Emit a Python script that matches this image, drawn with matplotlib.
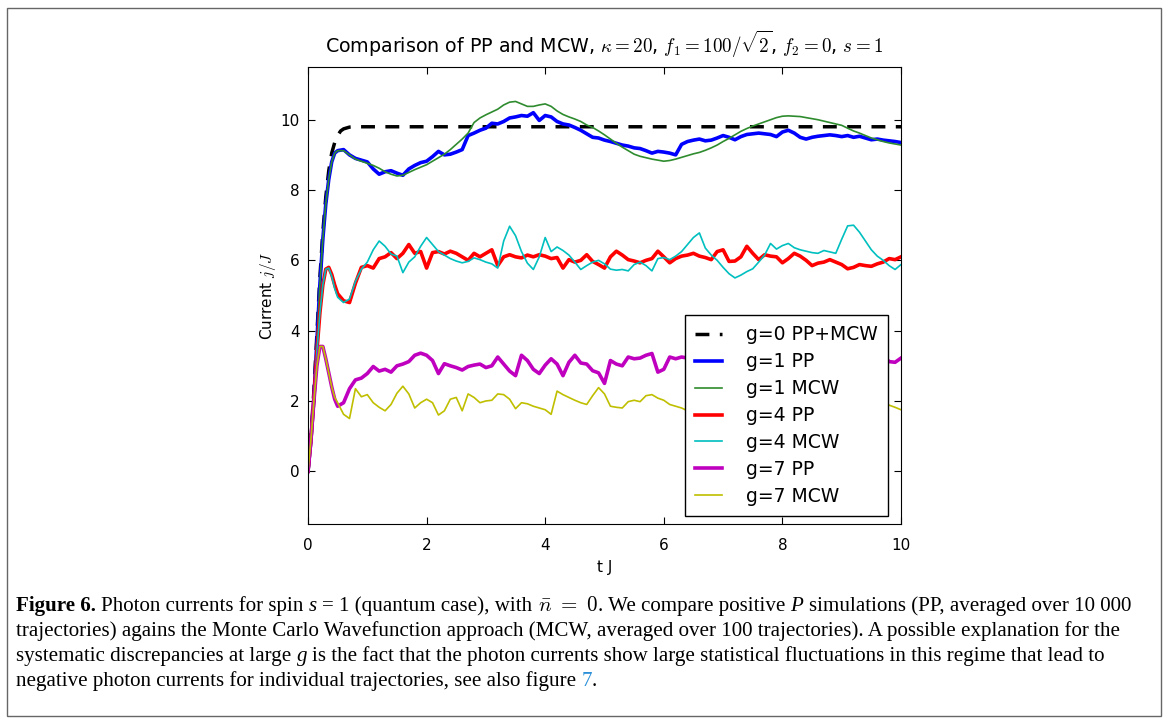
import matplotlib

matplotlib.use("Agg")
import matplotlib.pyplot as plt
import numpy as np
from matplotlib.patches import Rectangle

plt.rcParams["mathtext.fontset"] = "cm"
plt.rcParams["font.family"] = "DejaVu Sans"

# time grid: dense start, then 0.1 steps
t = np.concatenate([np.linspace(0, 0.5, 11), np.linspace(0.6, 10.0, 95)])

g0_t = [0, 0.05, 0.1, 0.15, 0.2, 0.25, 0.3, 0.35, 0.4, 0.45, 0.5, 0.55, 0.6, 0.7, 0.8, 10.0]
g0_j = [0, 1.0, 2.3, 3.9, 5.5, 6.8, 7.8, 8.55, 9.05, 9.35, 9.55, 9.68, 9.74, 9.79, 9.8, 9.8]

g1_pp = [0, 0.9, 2.1, 3.7, 5.3, 6.6, 7.6, 8.3, 8.8, 9.05, 9.12] + [
    9.15, 9.0, 8.9, 8.85, 8.8, 8.6, 8.45, 8.52, 8.55, 8.48,
    8.42, 8.6, 8.7, 8.78, 8.82, 8.95, 9.1, 9.0, 9.02, 9.08,
    9.15, 9.55, 9.62, 9.7, 9.76, 9.9, 9.88, 9.95, 10.05, 10.08,
    10.12, 10.1, 10.2, 9.98, 10.12, 10.08, 9.95, 9.88, 9.85, 9.78,
    9.7, 9.6, 9.5, 9.48, 9.42, 9.38, 9.33, 9.28, 9.25, 9.2,
    9.18, 9.12, 9.05, 9.1, 9.08, 9.05, 9.0, 9.3, 9.38, 9.42,
    9.45, 9.4, 9.42, 9.48, 9.55, 9.5, 9.43, 9.52, 9.58, 9.6,
    9.62, 9.6, 9.58, 9.52, 9.65, 9.7, 9.62, 9.5, 9.45, 9.5,
    9.53, 9.55, 9.57, 9.55, 9.52, 9.55, 9.5, 9.53, 9.48, 9.43,
    9.45, 9.42, 9.4, 9.38, 9.35]

g1_mcw = [0, 0.9, 2.1, 3.7, 5.3, 6.6, 7.6, 8.3, 8.8, 9.05, 9.12] + [
    9.12, 9.0, 8.88, 8.82, 8.76, 8.7, 8.62, 8.52, 8.45, 8.4,
    8.42, 8.5, 8.58, 8.65, 8.72, 8.82, 8.92, 9.02, 9.15, 9.3,
    9.45, 9.62, 9.92, 10.05, 10.14, 10.22, 10.3, 10.42, 10.5, 10.52,
    10.45, 10.38, 10.38, 10.42, 10.45, 10.38, 10.25, 10.15, 10.08, 10.02,
    9.95, 9.85, 9.78, 9.68, 9.57, 9.45, 9.33, 9.22, 9.12, 9.02,
    8.96, 8.92, 8.88, 8.85, 8.82, 8.84, 8.88, 8.93, 8.98, 9.03,
    9.07, 9.13, 9.2, 9.28, 9.38, 9.47, 9.57, 9.67, 9.75, 9.82,
    9.88, 9.94, 10.0, 10.06, 10.1, 10.11, 10.1, 10.09, 10.06, 10.03,
    10.0, 9.96, 9.92, 9.88, 9.84, 9.76, 9.68, 9.62, 9.55, 9.48,
    9.43, 9.38, 9.34, 9.31, 9.28]

g4_pp = [0, 0.9, 2.1, 3.4, 4.5, 5.3, 5.75, 5.8, 5.6, 5.3, 5.05] + [
    4.85, 4.8, 5.35, 5.8, 5.85, 5.78, 6.05, 6.1, 6.22, 6.05,
    6.2, 6.45, 6.2, 6.25, 5.78, 6.22, 6.25, 6.18, 6.26, 6.2,
    6.1, 6.0, 6.2, 6.1, 6.2, 6.3, 5.85, 6.1, 6.16, 6.1,
    6.07, 6.15, 6.1, 6.16, 6.12, 6.05, 6.08, 5.78, 6.02, 5.95,
    6.0, 6.16, 5.97, 5.88, 5.78, 6.1, 6.26, 6.15, 6.02, 5.98,
    5.93, 6.0, 6.05, 6.26, 6.1, 5.93, 6.05, 6.12, 6.15, 6.2,
    6.12, 6.08, 6.02, 6.25, 6.3, 5.97, 5.98, 6.1, 6.4, 6.2,
    6.02, 6.16, 6.12, 6.1, 5.93, 6.05, 6.2, 6.12, 6.0, 5.85,
    5.92, 5.95, 6.02, 5.95, 5.88, 5.76, 5.8, 5.88, 5.85, 5.83,
    5.9, 5.95, 6.05, 6.02, 6.1]

g4_mcw = [0, 0.9, 2.1, 3.4, 4.5, 5.3, 5.75, 5.78, 5.55, 5.2, 4.95] + [
    4.8, 4.9, 5.4, 5.75, 5.95, 6.3, 6.55, 6.4, 6.18, 6.12,
    5.65, 5.95, 6.1, 6.4, 6.65, 6.45, 6.25, 6.15, 6.05, 5.98,
    5.93, 5.97, 6.07, 6.02, 5.95, 5.9, 5.78, 6.55, 6.97, 6.7,
    6.25, 5.92, 5.74, 6.1, 6.65, 6.25, 6.38, 6.28, 6.15, 5.95,
    5.74, 5.85, 5.95, 6.0, 5.9, 5.75, 5.72, 5.74, 5.7, 5.88,
    5.95, 5.85, 5.7, 6.05, 6.08, 6.02, 6.12, 6.25, 6.45, 6.65,
    6.78, 6.35, 6.15, 6.0, 5.8, 5.62, 5.5, 5.58, 5.68, 5.76,
    5.95, 6.15, 6.48, 6.32, 6.42, 6.48, 6.36, 6.3, 6.26, 6.22,
    6.2, 6.28, 6.24, 6.2, 6.6, 6.98, 7.0, 6.8, 6.55, 6.3,
    6.12, 6.0, 5.85, 5.74, 5.88]

g7_pp = [0, 0.9, 2.0, 3.0, 3.55, 3.55, 3.2, 2.8, 2.4, 2.05, 1.85] + [
    1.95, 2.35, 2.6, 2.65, 2.78, 2.98, 2.85, 2.9, 2.82, 3.0,
    3.05, 3.12, 3.3, 3.36, 3.3, 3.15, 2.78, 3.06, 3.0, 2.95,
    2.88, 2.98, 3.02, 3.05, 2.95, 3.0, 3.25, 3.05, 2.85, 2.72,
    3.3, 3.15, 2.9, 2.78, 3.02, 3.2, 3.05, 2.72, 3.1, 3.3,
    3.08, 3.05, 2.86, 2.8, 2.5, 3.15, 3.05, 3.0, 3.25, 3.2,
    3.22, 3.3, 3.35, 2.82, 2.9, 3.25, 3.2, 3.25, 3.22, 3.15,
    3.28, 3.1, 3.2, 3.05, 3.15, 3.25, 3.1, 3.0, 3.15, 3.2,
    3.3, 3.12, 3.05, 3.18, 3.25, 3.1, 3.0, 3.12, 3.2, 3.28,
    3.15, 3.05, 3.1, 3.22, 3.18, 3.05, 3.12, 3.25, 3.15, 3.08,
    3.2, 3.28, 3.12, 3.1, 3.22]

g7_mcw = [0, 0.9, 2.0, 3.0, 3.55, 3.55, 3.2, 2.8, 2.4, 2.1, 1.95] + [
    1.62, 1.5, 2.35, 2.12, 2.18, 1.95, 1.82, 1.72, 1.9, 2.22,
    2.42, 2.2, 1.8, 1.95, 2.05, 1.95, 1.6, 1.72, 2.05, 2.1,
    1.72, 2.2, 2.1, 1.95, 2.0, 2.02, 2.2, 2.18, 2.05, 1.78,
    1.95, 1.92, 1.85, 1.8, 1.75, 1.62, 2.28, 2.18, 2.1, 2.02,
    1.95, 1.9, 2.15, 2.38, 2.2, 1.85, 1.82, 1.8, 1.98, 2.02,
    1.98, 2.15, 2.18, 2.08, 2.02, 1.9, 1.85, 1.8, 1.72, 1.8,
    1.9, 2.0, 1.85, 1.78, 1.95, 2.05, 1.9, 1.8, 1.88, 2.0,
    1.92, 1.82, 1.75, 1.9, 2.05, 1.95, 1.85, 1.8, 1.92, 2.0,
    1.88, 1.78, 1.85, 1.95, 1.9, 1.82, 1.9, 2.0, 1.92, 1.85,
    1.9, 1.95, 1.88, 1.82, 1.75]

fig = plt.figure(figsize=(11.68, 7.24), dpi=100)
fig.patch.set_facecolor("white")
ax = fig.add_axes([308 / 1168, 1 - 524 / 724, 593 / 1168, 457 / 724])

ax.plot(g0_t, g0_j, "k--", lw=2.5, dashes=(4, 3), label="g=0 PP+MCW")
ax.plot(t, g1_pp, color="#0000ff", lw=2.6, label="g=1 PP")
ax.plot(t, g1_mcw, color="#2e8b2e", lw=1.2, label="g=1 MCW")
ax.plot(t, g4_pp, color="#ff0000", lw=2.6, label="g=4 PP")
ax.plot(t, g4_mcw, color="#00bfbf", lw=1.2, label="g=4 MCW")
ax.plot(t, g7_pp, color="#bf00bf", lw=2.6, label="g=7 PP")
ax.plot(t, g7_mcw, color="#bfbf00", lw=1.2, label="g=7 MCW")

ax.set_xlim(0, 10)
ax.set_ylim(-1.5, 11.5)
ax.set_xticks([0, 2, 4, 6, 8, 10])
ax.set_yticks([0, 2, 4, 6, 8, 10])
ax.tick_params(direction="in", top=True, right=True, length=5, labelsize=11, pad=6)
ax.tick_params(axis="x", pad=10)
ax.set_xlabel("t J", fontsize=11, labelpad=5)
ax.set_ylabel("Current $j/J$", fontsize=11, labelpad=2)
ax.set_title(r"Comparison of PP and MCW, $\kappa=20$, $f_1=100/\sqrt{2}$, $f_2=0$, $s=1$",
             fontsize=13.7, pad=10)
leg = ax.legend(loc="lower right", bbox_to_anchor=(1 - 13 / 593, 8 / 457),
                borderaxespad=0, fontsize=13.5, labelspacing=0.42, handlelength=1.4,
                handletextpad=1.3, borderpad=0.55, fancybox=False, framealpha=1)
leg.get_frame().set_edgecolor("black")

# outer frame of the figure panel
fig.patches.append(Rectangle((7 / 1168, 1 - 716 / 724), 1154 / 1168, 708 / 724,
                             transform=fig.transFigure, fill=False,
                             edgecolor="#666666", lw=1))

# caption, drawn run by run so bold/italic pieces line up
cap_size = 15.15
serif = "Liberation Serif"
renderer = fig.canvas.get_renderer()
W = fig.bbox.width


def width_of(s, **kw):
    tx = fig.text(0, 0, s, fontsize=cap_size, family=serif, **kw)
    w = tx.get_window_extent(renderer).width
    tx.remove()
    return w


space_w = width_of("a a") - width_of("aa")

caption = [
    [("Figure 6.", {"weight": "bold"}), (" Photon currents for spin", {}),
     (" s", {"style": "italic"}), (" = 1 (quantum case), with", {}),
     (r" $\bar{n}\ =\ 0$", {}), (". We compare positive", {}),
     (" P", {"style": "italic"}), (" simulations (PP, averaged over 10 000", {})],
    [("trajectories) agains the Monte Carlo Wavefunction approach (MCW, averaged over "
      "100 trajectories). A possible explanation for the", {})],
    [("systematic discrepancies at large", {}), (" g", {"style": "italic"}),
     (" is the fact that the photon currents show large statistical fluctuations in "
      "this regime that lead to", {})],
    [("negative photon currents for individual trajectories, see also figure", {}),
     (" 7", {"color": "#2b8fd8"}), (".", {})],
]
baselines = [611, 636, 661, 686]

for line, base in zip(caption, baselines):
    x = 16.0
    for text, kw in line:
        if text.startswith(" "):
            x += space_w
            text = text[1:]
        tx = fig.text(x / W, 1 - base / 724, text, fontsize=cap_size, family=serif,
                      va="baseline", ha="left", **kw)
        x += tx.get_window_extent(renderer).width

fig.savefig("out.png", dpi=100, facecolor="white")
